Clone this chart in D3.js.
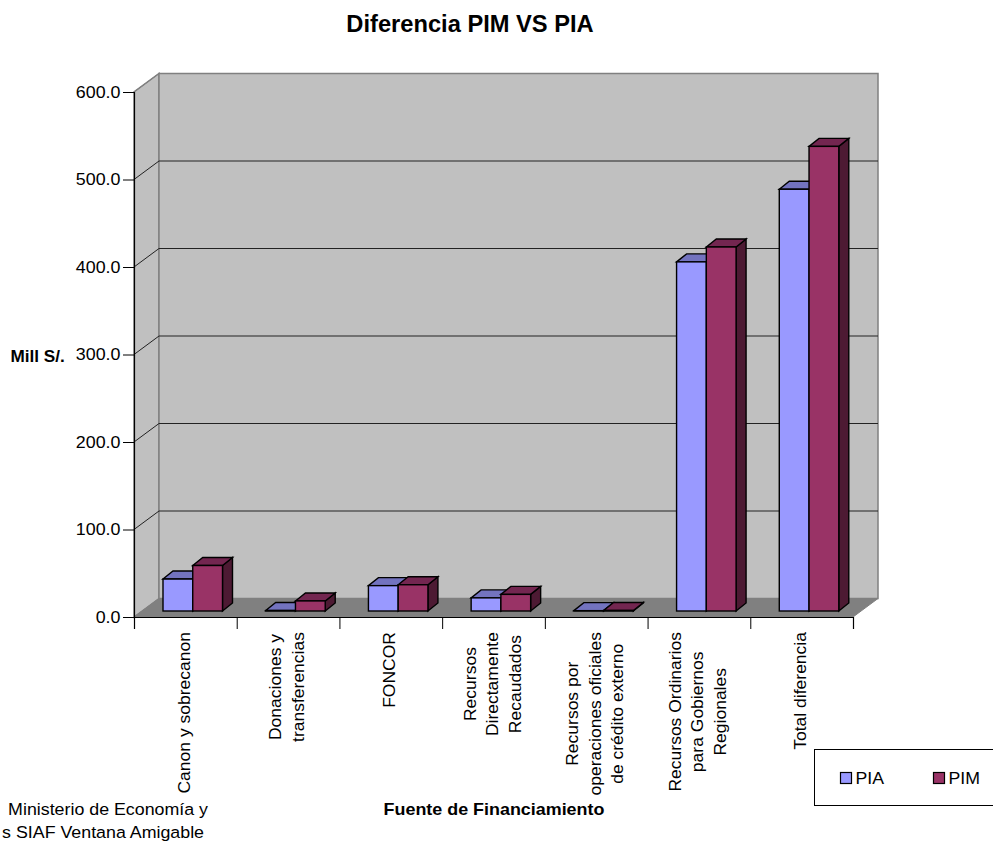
<!DOCTYPE html>
<html><head><meta charset="utf-8">
<script src="https://cdn.jsdelivr.net/npm/d3@7/dist/d3.min.js"></script>
<style>html,body{margin:0;padding:0;background:#fff;overflow:hidden}svg{display:block}text{font-family:"Liberation Sans",Arial,sans-serif;fill:#000}</style>
</head><body><svg id="c" width="993" height="841"></svg>
<script>
const categories=[["Canon y sobrecanon"],["Donaciones y","transferencias"],["FONCOR"],["Recursos","Directamente","Recaudados"],["Recursos por","operaciones oficiales","de crédito externo"],["Recursos Ordinarios","para Gobiernos","Regionales"],["Total diferencia"]];
const seriesNames=["PIA","PIM"];
const piaValues=[36.5,0.5,29,15,0.4,399,482];
const pimValues=[52,11.5,30,19,0.6,416,531];
const yTicks=[0,100,200,300,400,500,600];
const faceColors={PIA:["#9999ff","#7373bf","#4d4d80"],PIM:["#993366","#732650","#4d1a33"]};

const svg=d3.select("#c");
const L=134,R=853,T=92,B=617,DX=25,DY=-18.5;
const y=d3.scaleLinear().domain([0,600]).range([B,T]);
const xi=d3.scaleLinear().domain([0,categories.length]).range([L,R]);
const x0=d3.scaleBand().domain(d3.range(categories.length)).range([L,R]);
const x1=d3.scaleBand().domain(seriesNames).range([29,88.5]);
const poly=(g,pts,fill,stroke,w)=>g.append("polygon").attr("points",pts.map(p=>p.join(",")).join(" ")).attr("fill",fill).attr("stroke",stroke).attr("stroke-width",w).attr("stroke-linejoin","miter");
const label=(x,yy,str,size,sx,opt={})=>svg.append("text").attr("font-size",size)
  .attr("font-weight",opt.bold?"bold":"normal").attr("text-anchor",opt.anchor||"start")
  .attr("transform",`translate(${x},${yy}) ${opt.rotate?`rotate(${opt.rotate}) `:""}scale(${sx},1)`).text(str);

// walls and floor
poly(svg,[[L,B],[L+DX,B+DY],[L+DX,T+DY],[L,T]],"#c0c0c0","#808080",1.5);
poly(svg,[[L+DX,B+DY],[R+DX,B+DY],[R+DX,T+DY],[L+DX,T+DY]],"#c0c0c0","#808080",1.5);
poly(svg,[[L,B],[R,B],[R+DX,B+DY],[L+DX,B+DY]],"#808080","#808080",1);

// gridlines
yTicks.slice(1).forEach(t=>{
  const yy=y(t);
  if(t<600){svg.append("line").attr("x1",L+DX).attr("x2",R+DX).attr("y1",yy+DY).attr("y2",yy+DY).attr("stroke","#222").attr("stroke-width",1);}
  svg.append("line").attr("x1",L).attr("x2",L+DX).attr("y1",yy).attr("y2",yy+DY).attr("stroke",t<600?"#222":"#808080").attr("stroke-width",1);
});

// bars
const D=[10,-8],baseShift=-6;
categories.forEach((c,i)=>{
  seriesNames.forEach((s,k)=>{
    const v=(k==0?piaValues:pimValues)[i];
    const xa=x0(i)+x1(s),xb=xa+x1.bandwidth();
    const yt=y(v)+baseShift,yb=y(0)+baseShift;
    const col=faceColors[s],g=svg.append("g");
    poly(g,[[xb,yb],[xb+D[0],yb+D[1]],[xb+D[0],yt+D[1]],[xb,yt]],col[2],"#000",1.4);
    poly(g,[[xa,yt],[xb,yt],[xb+D[0],yt+D[1]],[xa+D[0],yt+D[1]]],col[1],"#000",1.4);
    g.append("rect").attr("x",xa).attr("y",yt).attr("width",xb-xa).attr("height",yb-yt).attr("fill",col[0]).attr("stroke","#000").attr("stroke-width",1.4);
  });
});

// axes
const ay=svg.append("g").attr("transform",`translate(${L},0)`).call(d3.axisLeft(y).tickValues(yTicks).tickFormat(d3.format(".1f")).tickSize(11));
const ax=svg.append("g").attr("transform",`translate(0,${B})`).call(d3.axisBottom(xi).tickValues(d3.range(categories.length+1)).tickFormat("").tickSize(12));
[ay,ax].forEach(a=>{a.select(".domain").attr("stroke","#000").attr("stroke-width",1.2);a.selectAll("line").attr("stroke","#000");});
ay.selectAll("text").attr("x",0).attr("transform","translate(-13.5,0) scale(1.05,1)").attr("font-size",17).attr("fill","#000").attr("font-family",'"Liberation Sans",Arial,sans-serif');

// category labels
const lineStep=22.5,labelTop=632,labelSize=17,labelSx=1.03;
categories.forEach((lines,i)=>{
  const cx=x0(i)+x0.bandwidth()/2;
  const tmp=svg.append("text").attr("font-size",labelSize).style("visibility","hidden");
  const maxW=d3.max(lines,l=>{tmp.text(l);return tmp.node().getComputedTextLength();})*labelSx;
  tmp.remove();
  lines.forEach((l,j)=>{
    const px=cx+(j-(lines.length-1)/2)*lineStep+4.5;
    label(px,labelTop+maxW/2,l,labelSize,labelSx,{anchor:"middle",rotate:-90});
  });
});

// titles
label(470,32,"Diferencia PIM VS PIA",23,1.03,{anchor:"middle",bold:true});
label(10.5,362,"Mill S/.",16.5,1.04,{bold:true});
label(494,815,"Fuente de Financiamiento",16,1.12,{anchor:"middle",bold:true});
label(208,815,"Ministerio de Economía y",16.5,1.08,{anchor:"end"});
label(204,838,"s SIAF Ventana Amigable",16.5,1.08,{anchor:"end"});

// legend
svg.append("rect").attr("x",814.5).attr("y",749.5).attr("width",190).attr("height",56).attr("fill","#fff").attr("stroke","#000");
const legendX=d3.scaleOrdinal().domain(seriesNames).range([840.5,933.5]);
seriesNames.forEach(s=>{
  svg.append("rect").attr("x",legendX(s)).attr("y",772.5).attr("width",11).attr("height",11).attr("fill",faceColors[s][0]).attr("stroke","#000").attr("stroke-width",1.2);
  label(legendX(s)+15,784,s,17,1.04);
});
</script></body></html>
